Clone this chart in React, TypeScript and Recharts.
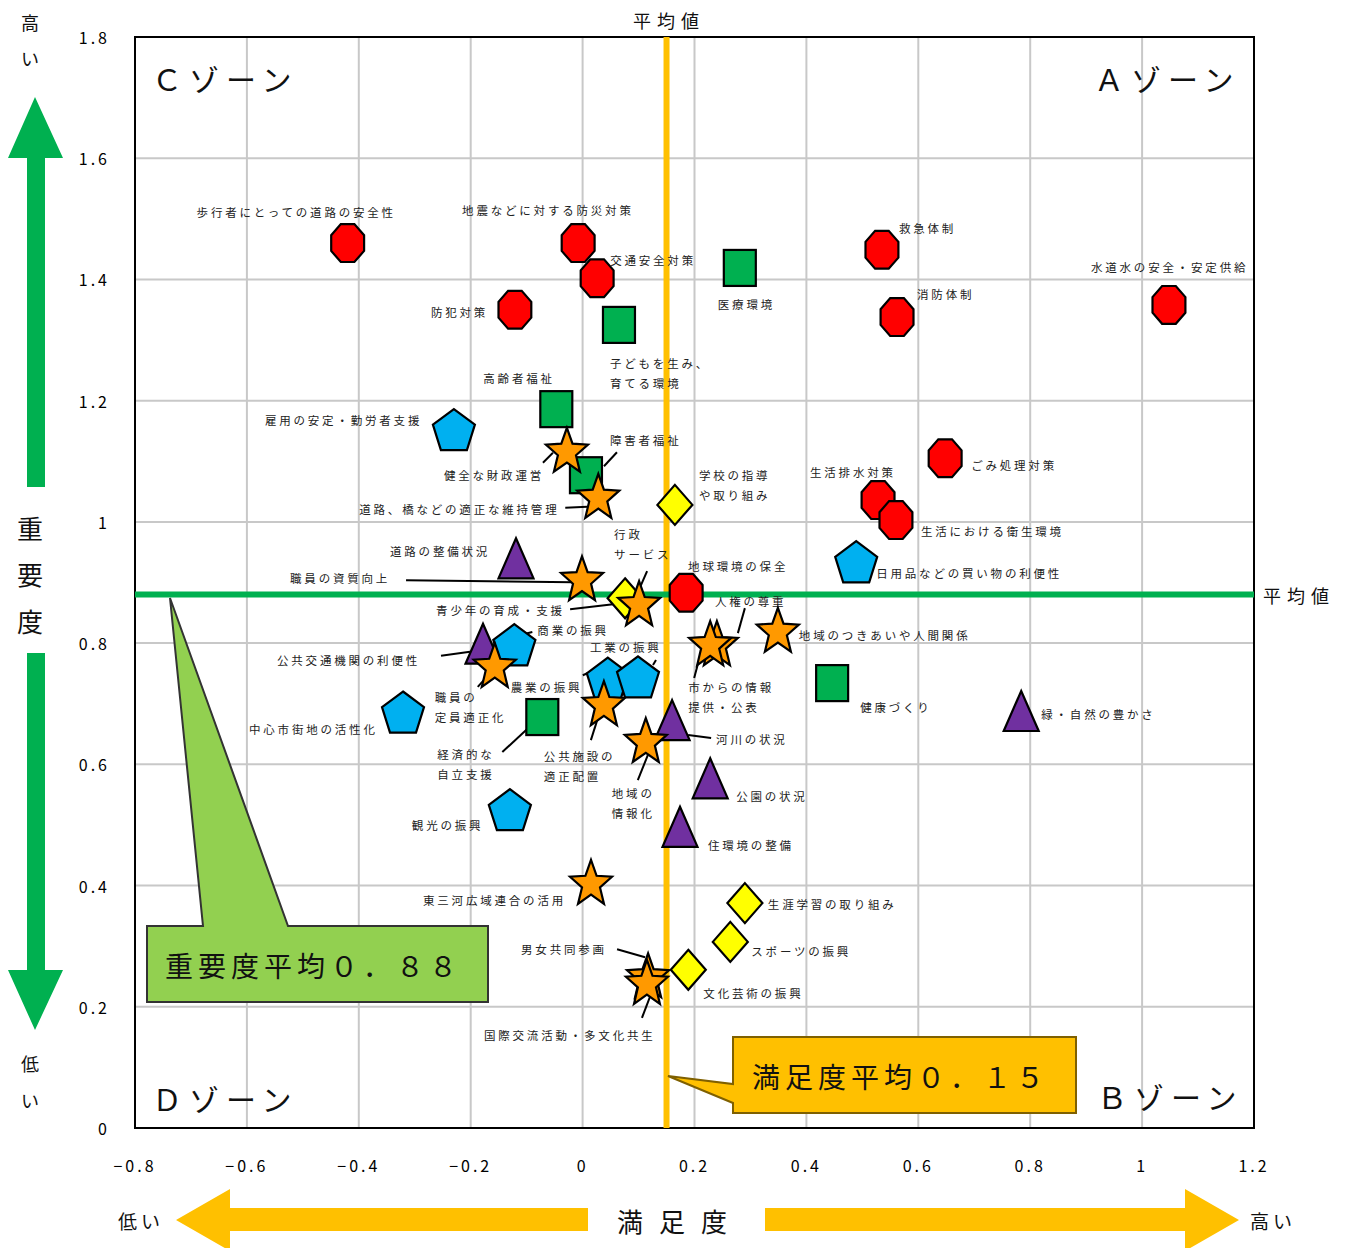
import React from 'react';
import { ScatterChart, Scatter, XAxis, YAxis, CartesianGrid, ReferenceLine, ReferenceArea } from 'recharts';

const FONT = '"Noto Sans CJK JP", "Noto Sans", sans-serif';

const xTicks = [-0.8, -0.6, -0.4, -0.2, 0, 0.2, 0.4, 0.6, 0.8, 1, 1.2];
const yTicks = [0, 0.2, 0.4, 0.6, 0.8, 1, 1.2, 1.4, 1.6, 1.8];
const SATISFACTION_MEAN = 0.15;
const IMPORTANCE_MEAN = 0.88;

type Item = { name: string; x: number; y: number };

// red octagons
const safetyItems: Item[] = [
  { name: '歩行者にとっての道路の安全性', x: -0.42, y: 1.46 },
  { name: '地震などに対する防災対策', x: -0.008, y: 1.46 },
  { name: '交通安全対策', x: 0.026, y: 1.402 },
  { name: '防犯対策', x: -0.121, y: 1.35 },
  { name: '救急体制', x: 0.535, y: 1.449 },
  { name: '消防体制', x: 0.562, y: 1.338 },
  { name: '水道水の安全・安定供給', x: 1.048, y: 1.358 },
  { name: 'ごみ処理対策', x: 0.648, y: 1.105 },
  { name: '生活排水対策', x: 0.528, y: 1.036 },
  { name: '生活における衛生環境', x: 0.56, y: 1.003 },
  { name: '地球環境の保全', x: 0.185, y: 0.883 },
];

// green squares
const welfareItems: Item[] = [
  { name: '医療環境', x: 0.281, y: 1.419 },
  { name: '子どもを生み、\n育てる環境', x: 0.065, y: 1.325 },
  { name: '高齢者福祉', x: -0.047, y: 1.186 },
  { name: '障害者福祉', x: 0.006, y: 1.077 },
  { name: '健康づくり', x: 0.446, y: 0.734 },
  { name: '経済的な\n自立支援', x: -0.072, y: 0.678 },
];

// blue pentagons
const industryItems: Item[] = [
  { name: '雇用の安定・勤労者支援', x: -0.23, y: 1.152 },
  { name: '日用品などの買い物の利便性', x: 0.489, y: 0.934 },
  { name: '商業の振興', x: -0.122, y: 0.797 },
  { name: '農業の振興', x: 0.045, y: 0.742 },
  { name: '工業の振興', x: 0.099, y: 0.744 },
  { name: '中心市街地の活性化', x: -0.321, y: 0.686 },
  { name: '観光の振興', x: -0.13, y: 0.525 },
];

// purple triangles
const infraItems: Item[] = [
  { name: '道路の整備状況', x: -0.119, y: 0.94 },
  { name: '公共交通機関の利便性', x: -0.178, y: 0.799 },
  { name: '河川の状況', x: 0.16, y: 0.673 },
  { name: '公園の状況', x: 0.228, y: 0.577 },
  { name: '住環境の整備', x: 0.174, y: 0.497 },
  { name: '緑・自然の豊かさ', x: 0.784, y: 0.688 },
];

// orange stars
const civicItems: Item[] = [
  { name: '健全な財政運営', x: -0.028, y: 1.119 },
  { name: '道路、橋などの適正な維持管理', x: 0.028, y: 1.043 },
  { name: '職員の資質向上', x: -0.001, y: 0.907 },
  { name: '行政\nサービス', x: 0.101, y: 0.866 },
  { name: '人権の尊重', x: 0.24, y: 0.8 },
  { name: '市からの情報\n提供・公表', x: 0.228, y: 0.8 },
  { name: '地域のつきあいや人間関係', x: 0.349, y: 0.822 },
  { name: '職員の\n定員適正化', x: -0.157, y: 0.764 },
  { name: '公共施設の\n適正配置', x: 0.038, y: 0.701 },
  { name: '地域の\n情報化', x: 0.113, y: 0.64 },
  { name: '東三河広域連合の活用', x: 0.015, y: 0.406 },
  { name: '男女共同参画', x: 0.117, y: 0.252 },
  { name: '国際交流活動・多文化共生', x: 0.115, y: 0.241 },
];

// yellow diamonds
const educationItems: Item[] = [
  { name: '学校の指導\nや取り組み', x: 0.165, y: 1.028 },
  { name: '青少年の育成・支援', x: 0.076, y: 0.874 },
  { name: '生涯学習の取り組み', x: 0.29, y: 0.371 },
  { name: 'スポーツの振興', x: 0.264, y: 0.307 },
  { name: '文化芸術の振興', x: 0.189, y: 0.261 },
];

// label placement relative to each marker (styling, px)
type Layout = { dx: number; dy: number; leader?: number[] };
const labelLayout: Record<string, Layout> = {
  '歩行者にとっての道路の安全性': { dx: -151, dy: -31 },
  '地震などに対する防災対策': { dx: -116, dy: -33 },
  '交通安全対策': { dx: 13, dy: -18 },
  '防犯対策': { dx: -84, dy: 2 },
  '救急体制': { dx: 17, dy: -22 },
  '消防体制': { dx: 20, dy: -23 },
  '水道水の安全・安定供給': { dx: -78, dy: -38 },
  'ごみ処理対策': { dx: 26, dy: 7 },
  '生活排水対策': { dx: -68, dy: -28 },
  '生活における衛生環境': { dx: 25, dy: 11 },
  '地球環境の保全': { dx: 2, dy: -27 },
  '医療環境': { dx: -22, dy: 36 },
  '子どもを生み、\n育てる環境': { dx: -9, dy: 38 },
  '高齢者福祉': { dx: -73, dy: -31 },
  '障害者福祉': { dx: 24, dy: -35, leader: [31, -23, 18, -9] },
  '健康づくり': { dx: 28, dy: 24 },
  '経済的な\n自立支援': { dx: -105, dy: 37, leader: [-40, 35, -14, 11] },
  '雇用の安定・勤労者支援': { dx: -189, dy: -10 },
  '日用品などの買い物の利便性': { dx: 20, dy: 11 },
  '商業の振興': { dx: 23, dy: -15, leader: [18, -13, 6, -10] },
  '農業の振興': { dx: -97, dy: 9, leader: [-25, -3, -18, -6] },
  '工業の振興': { dx: -48, dy: -30, leader: [18, -17, 15, -12] },
  '中心市街地の活性化': { dx: -154, dy: 17 },
  '観光の振興': { dx: -98, dy: 15 },
  '道路の整備状況': { dx: -126, dy: -7 },
  '公共交通機関の利便性': { dx: -206, dy: 16, leader: [-42, 12, -13, 8] },
  '河川の状況': { dx: 44, dy: 19, leader: [16, 15, 39, 18] },
  '公園の状況': { dx: 26, dy: 18 },
  '住環境の整備': { dx: 28, dy: 18 },
  '緑・自然の豊かさ': { dx: 20, dy: 3 },
  '健全な財政運営': { dx: -123, dy: 25, leader: [-24, 13, -14, 3] },
  '道路、橋などの適正な維持管理': { dx: -239, dy: 13, leader: [-33, 12, -11, 11] },
  '職員の資質向上': { dx: -292, dy: 0, leader: [-176, 2, -9, 4] },
  '行政\nサービス': { dx: -25, dy: -69, leader: [8, -32, 1, -16] },
  '人権の尊重': { dx: -2, dy: -42, leader: [28, -35, 21, -10] },
  '市からの情報\n提供・公表': { dx: -22, dy: 44, leader: [-12, 20, -16, 35] },
  '地域のつきあいや人間関係': { dx: 21, dy: 5 },
  '職員の\n定員適正化': { dx: -60, dy: 32, leader: [-17, 22, -8, 12] },
  '公共施設の\n適正配置': { dx: -60, dy: 53, leader: [-13, 37, -6, 15] },
  '地域の\n情報化': { dx: -34, dy: 53, leader: [-8, 40, 2, 15] },
  '東三河広域連合の活用': { dx: -168, dy: 18 },
  '男女共同参画': { dx: -127, dy: -26, leader: [-31, -26, -3, -18] },
  '国際交流活動・多文化共生': { dx: -163, dy: 53, leader: [-5, 36, 3, 15] },
  '学校の指導\nや取り組み': { dx: 24, dy: -30 },
  '青少年の育成・支援': { dx: -189, dy: 12, leader: [-55, 11, -12, 6] },
  '生涯学習の取り組み': { dx: 23, dy: 1 },
  'スポーツの振興': { dx: 21, dy: 9 },
  '文化芸術の振興': { dx: 15, dy: 23 },
};

type Kind = 'octagon' | 'square' | 'pentagon' | 'triangle' | 'star' | 'diamond';

function poly(points: [number, number][]) {
  return points.map((p) => `${p[0].toFixed(1)},${p[1].toFixed(1)}`).join(' ');
}

function regular(cx: number, cy: number, n: number, rx: number, ry: number, start: number) {
  const pts: [number, number][] = [];
  for (let i = 0; i < n; i++) {
    const a = ((start + (360 / n) * i) * Math.PI) / 180;
    pts.push([cx + rx * Math.cos(a), cy + ry * Math.sin(a)]);
  }
  return pts;
}

function starPoints(cx: number, cy: number, rx: number, ry: number, ratio: number) {
  const pts: [number, number][] = [];
  for (let i = 0; i < 10; i++) {
    const a = ((-90 + 36 * i) * Math.PI) / 180;
    const k = i % 2 === 0 ? 1 : ratio;
    pts.push([cx + rx * k * Math.cos(a), cy + ry * k * Math.sin(a)]);
  }
  return pts;
}

const STROKE = { stroke: '#000', strokeWidth: 2.2, strokeLinejoin: 'miter' as const };

function MarkerShape({ kind, cx, cy }: { kind: Kind; cx: number; cy: number }) {
  switch (kind) {
    case 'octagon':
      return <polygon points={poly(regular(cx, cy, 8, 17.8, 20.5, 22.5))} fill="#FF0000" {...STROKE} />;
    case 'square':
      return <rect x={cx - 16} y={cy - 18} width={32} height={36} fill="#00B050" {...STROKE} />;
    case 'pentagon':
      return <polygon points={poly(regular(cx, cy + 2, 5, 22.1, 22.7, -90))} fill="#00B0F0" {...STROKE} />;
    case 'triangle':
      return (
        <polygon
          points={poly([
            [cx, cy - 20],
            [cx + 17.5, cy + 20],
            [cx - 17.5, cy + 20],
          ])}
          fill="#7030A0"
          {...STROKE}
        />
      );
    case 'star':
      return <polygon points={poly(starPoints(cx, cy + 2.3, 22.1, 24.3, 0.43))} fill="#FF9900" {...STROKE} />;
    case 'diamond':
    default:
      return (
        <polygon
          points={poly([
            [cx, cy - 20],
            [cx + 17.5, cy],
            [cx, cy + 20],
            [cx - 17.5, cy],
          ])}
          fill="#FFFF00"
          {...STROKE}
        />
      );
  }
}

function makeShape(kind: Kind) {
  return (props: any) => {
    const { cx, cy, payload } = props;
    if (cx == null || cy == null || !payload) return <g />;
    const name: string = payload.name;
    const lay = labelLayout[name] || { dx: 22, dy: 0 };
    const lines = name.split('\n');
    const l = lay.leader;
    return (
      <g>
        {l && (
          <line x1={cx + l[0]} y1={cy + l[1]} x2={cx + l[2]} y2={cy + l[3]} stroke="#000" strokeWidth={2} />
        )}
        <MarkerShape kind={kind} cx={cx} cy={cy} />
        <text
          fontFamily={FONT}
          fontSize={11.5}
          fill="#222"
          style={{ letterSpacing: '2.8px' }}
          dominantBaseline="central"
        >
          {lines.map((ln, i) => (
            <tspan key={i} x={cx + lay.dx} y={cy + lay.dy + i * 20}>
              {ln}
            </tspan>
          ))}
        </text>
      </g>
    );
  };
}

const fmtTick = (v: number) => String(v).replace('-', '−');

const YTick = (props: any) => {
  const { x, y, payload } = props;
  return (
    <text x={x} y={y} textAnchor="end" dominantBaseline="central" fontFamily={FONT} fontSize={16} fill="#000" style={{ letterSpacing: '3px' }}>
      {fmtTick(payload.value)}
    </text>
  );
};

const XTick = (props: any) => {
  const { x, y, payload } = props;
  return (
    <text x={x} y={y} textAnchor="middle" dominantBaseline="central" fontFamily={FONT} fontSize={16} fill="#000" style={{ letterSpacing: '3px' }}>
      {fmtTick(payload.value)}
    </text>
  );
};

function Overlay() {
  const t = { fontFamily: FONT, fill: '#111' } as const;
  return (
    <svg width={1349} height={1248} style={{ position: 'absolute', left: 0, top: 0, pointerEvents: 'none' }}>
      {/* zone labels */}
      <text x={152} y={78} fontSize={30} {...t} dominantBaseline="central" style={{ letterSpacing: '7px' }}>Ｃゾーン</text>
      <text x={1094} y={78} fontSize={30} {...t} dominantBaseline="central" style={{ letterSpacing: '7px' }}>Ａゾーン</text>
      <text x={152} y={1098} fontSize={30} {...t} dominantBaseline="central" style={{ letterSpacing: '7px' }}>Ｄゾーン</text>
      <text x={1097} y={1096} fontSize={30} {...t} dominantBaseline="central" style={{ letterSpacing: '7px' }}>Ｂゾーン</text>

      {/* mean labels */}
      <text x={633} y={20} fontSize={18} {...t} dominantBaseline="central" style={{ letterSpacing: '6px' }}>平均値</text>
      <text x={1263} y={595} fontSize={18} {...t} dominantBaseline="central" style={{ letterSpacing: '6px' }}>平均値</text>

      {/* importance callout */}
      <polygon
        points="147,926 203,926 170,598 288,926 488,926 488,1002 147,1002"
        fill="#92D050"
        stroke="#333"
        strokeWidth={2}
      />
      <text x={165} y={965} fontSize={28} {...t} dominantBaseline="central" style={{ letterSpacing: '5px' }}>重要度平均０．８８</text>

      {/* satisfaction callout */}
      <polygon
        points="733,1037 1076,1037 1076,1113 733,1113 733,1103 668,1076 733,1084"
        fill="#FFC000"
        stroke="#7F6000"
        strokeWidth={2}
      />
      <text x={752} y={1076} fontSize={28} {...t} dominantBaseline="central" style={{ letterSpacing: '5px' }}>満足度平均０．１５</text>

      {/* vertical axis annotation */}
      <polygon points="27,487 27,158 8,158 35,97 63,158 45,158 45,487" fill="#00B050" />
      <polygon points="27,653 45,653 45,970 63,970 35,1030 8,970 27,970" fill="#00B050" />
      <text x={30} y={22} fontSize={18} {...t} textAnchor="middle" dominantBaseline="central">高</text>
      <text x={30} y={58} fontSize={18} {...t} textAnchor="middle" dominantBaseline="central">い</text>
      <text x={30} y={527} fontSize={26} {...t} textAnchor="middle" dominantBaseline="central">重</text>
      <text x={30} y={573} fontSize={26} {...t} textAnchor="middle" dominantBaseline="central">要</text>
      <text x={30} y={620} fontSize={26} {...t} textAnchor="middle" dominantBaseline="central">度</text>
      <text x={30} y={1063} fontSize={18} {...t} textAnchor="middle" dominantBaseline="central">低</text>
      <text x={30} y={1100} fontSize={18} {...t} textAnchor="middle" dominantBaseline="central">い</text>

      {/* horizontal axis annotation */}
      <polygon points="588,1208 230,1208 230,1189 176,1220 230,1251 230,1231 588,1231" fill="#FFC000" />
      <polygon points="765,1208 1185,1208 1185,1189 1239,1220 1185,1251 1185,1231 765,1231" fill="#FFC000" />
      <text x={118} y={1220} fontSize={19} {...t} dominantBaseline="central" style={{ letterSpacing: '4px' }}>低い</text>
      <text x={1250} y={1220} fontSize={19} {...t} dominantBaseline="central" style={{ letterSpacing: '4px' }}>高い</text>
      <text x={617} y={1220} fontSize={26} {...t} dominantBaseline="central" style={{ letterSpacing: '16px' }}>満足度</text>
    </svg>
  );
}

export default function App() {
  return (
    <div style={{ position: 'relative', width: 1349, height: 1248, background: '#fff', overflow: 'hidden' }}>
      <style>{`body{margin:0;}`}</style>
      <ScatterChart width={1349} height={1248} margin={{ top: 37, right: 95, bottom: 70, left: 75 }}>
        <CartesianGrid stroke="#c8c8c8" strokeWidth={2} />
        <XAxis
          type="number"
          dataKey="x"
          domain={[-0.8, 1.2]}
          ticks={xTicks}
          interval={0}
          allowDataOverflow
          height={50}
          axisLine={false}
          tickLine={false}
          tickSize={0}
          tickMargin={37}
          tick={<XTick />}
        />
        <YAxis
          type="number"
          dataKey="y"
          domain={[0, 1.8]}
          ticks={yTicks}
          interval={0}
          allowDataOverflow
          width={60}
          axisLine={false}
          tickLine={false}
          tickSize={0}
          tickMargin={25}
          tick={<YTick />}
        />
        <ReferenceArea x1={-0.8} x2={1.2} y1={0} y2={1.8} fill="none" fillOpacity={0} stroke="#000" strokeWidth={2} />
        <ReferenceLine x={SATISFACTION_MEAN} stroke="#FFC000" strokeWidth={6} />
        <ReferenceLine y={IMPORTANCE_MEAN} stroke="#00B050" strokeWidth={6} />
        <Scatter data={safetyItems} shape={makeShape('octagon')} isAnimationActive={false} />
        <Scatter data={welfareItems} shape={makeShape('square')} isAnimationActive={false} />
        <Scatter data={infraItems} shape={makeShape('triangle')} isAnimationActive={false} />
        <Scatter data={industryItems} shape={makeShape('pentagon')} isAnimationActive={false} />
        <Scatter data={educationItems} shape={makeShape('diamond')} isAnimationActive={false} />
        <Scatter data={civicItems} shape={makeShape('star')} isAnimationActive={false} />
      </ScatterChart>
      <Overlay />
    </div>
  );
}
